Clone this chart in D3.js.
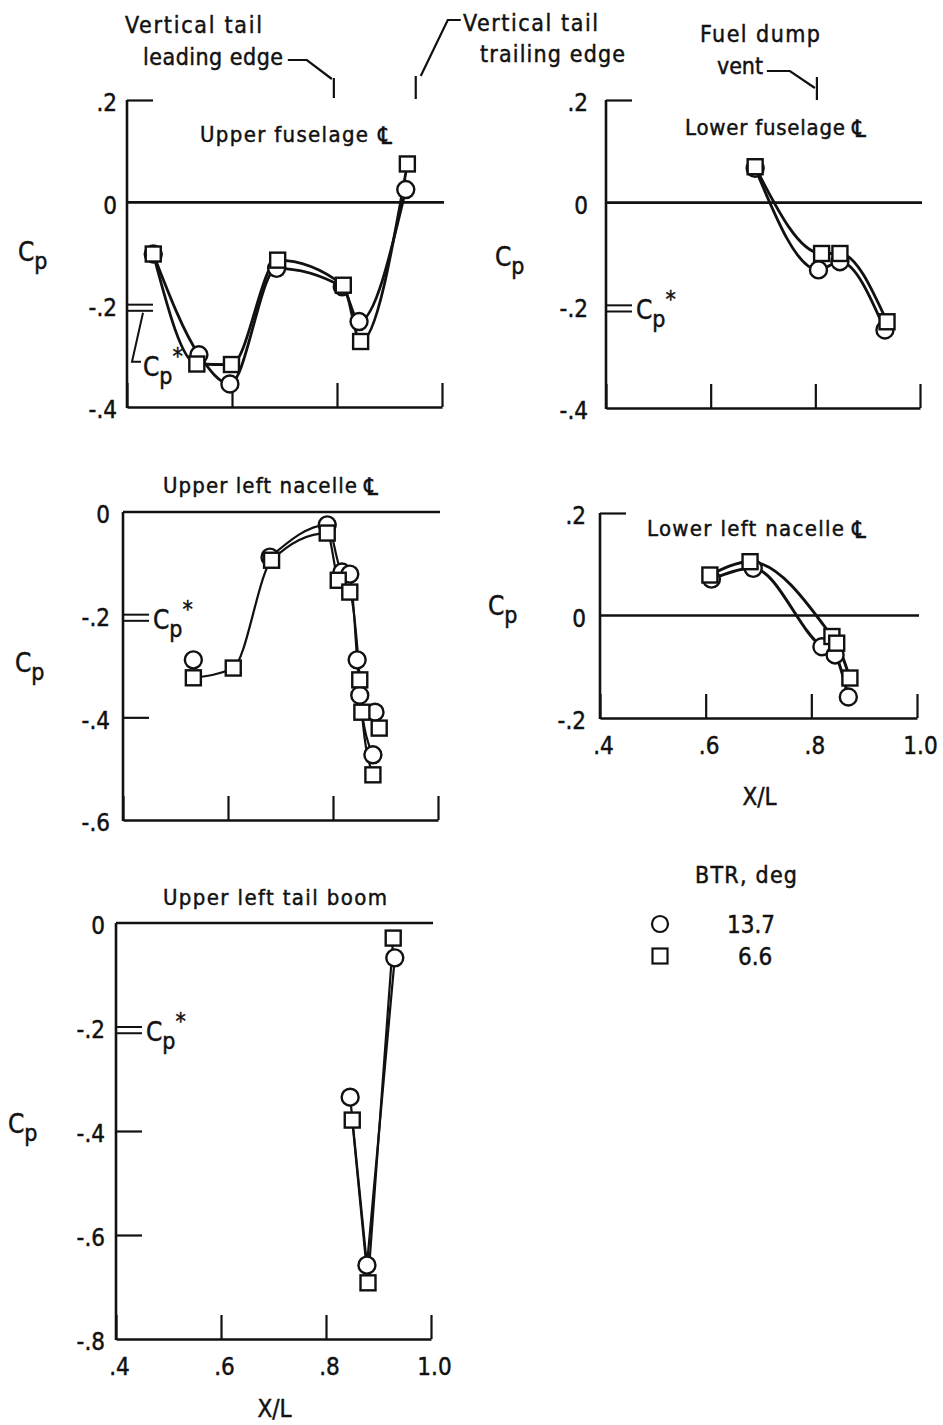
<!DOCTYPE html>
<html>
<head>
<meta charset="utf-8">
<script src="https://cdn.jsdelivr.net/npm/d3@7"></script>
<style>
  html, body { margin: 0; padding: 0; background: #fff; }
  svg text { font-family: "DejaVu Sans Condensed", "DejaVu Sans", sans-serif; fill: #111; stroke: #111; stroke-width: 0.45px; }
</style>
</head>
<body>
<script>
// ---------------- data ----------------
const legendTitle = "BTR, deg";
const seriesLabels = ["13.7", "6.6"];          // circle, square

const xTickValues = [0.4, 0.6, 0.8, 1.0];
const xTickText = [".4", ".6", ".8", "1.0"];
const xTitle = "X/L";
const centerlineGlyph = "\u2104";

// critical pressure coefficient band, Cp*
const cpStar = [-0.200, -0.212];

// station markers along X/L
const tailLeadingEdge = 0.794;
const tailTrailingEdge = 0.950;
const fuelDumpVent = 0.803;

// Upper fuselage centerline
const upperFuselageX_137 = [0.450, 0.537, 0.596, 0.685, 0.810, 0.842, 0.931];
const upperFuselageCp_137 = [-0.101, -0.298, -0.355, -0.129, -0.165, -0.233, 0.025];
const upperFuselageX_66 = [0.450, 0.533, 0.599, 0.687, 0.812, 0.845, 0.934];
const upperFuselageCp_66 = [-0.101, -0.316, -0.317, -0.113, -0.162, -0.272, 0.075];

// Lower fuselage centerline
const lowerFuselageX_137 = [0.685, 0.806, 0.847, 0.933];
const lowerFuselageCp_137 = [0.067, -0.131, -0.115, -0.248];
const lowerFuselageX_66 = [0.685, 0.812, 0.847, 0.937];
const lowerFuselageCp_66 = [0.070, -0.099, -0.099, -0.232];

// Upper left nacelle centerline
const upperNacelleX_137 = [0.534, 0.680, 0.789, 0.817, 0.832, 0.846, 0.851, 0.880, 0.876];
const upperNacelleCp_137 = [-0.288, -0.088, -0.025, -0.117, -0.121, -0.288, -0.357, -0.390, -0.473];
const upperNacelleFaired_137 = [1, 2, 3, 4, 5, 6, 8];
const upperNacelleX_66 = [0.534, 0.610, 0.683, 0.789, 0.810, 0.832, 0.851, 0.855, 0.888, 0.876];
const upperNacelleCp_66 = [-0.323, -0.304, -0.094, -0.041, -0.133, -0.156, -0.327, -0.390, -0.421, -0.512];
const upperNacelleFaired_66 = [0, 1, 2, 3, 4, 5, 6, 7, 9];

// Lower left nacelle centerline
const lowerNacelleX_137 = [0.611, 0.690, 0.820, 0.845, 0.870];
const lowerNacelleCp_137 = [0.071, 0.092, -0.061, -0.077, -0.159];
const lowerNacelleX_66 = [0.608, 0.684, 0.839, 0.848, 0.873];
const lowerNacelleCp_66 = [0.079, 0.105, -0.041, -0.054, -0.122];

// Upper left tail boom
const tailBoomX_137 = [0.846, 0.878, 0.931];
const tailBoomCp_137 = [-0.335, -0.658, -0.067];
const tailBoomX_66 = [0.850, 0.880, 0.928];
const tailBoomCp_66 = [-0.379, -0.692, -0.029];

const cpTicksA = [0.2, 0, -0.2, -0.4];
const cpTextA = [".2", "0", "-.2", "-.4"];
const cpTicksB = [0, -0.2, -0.4, -0.6];
const cpTextB = ["0", "-.2", "-.4", "-.6"];
const cpTicksC = [0.2, 0, -0.2];
const cpTextC = [".2", "0", "-.2"];
const cpTicksD = [0, -0.2, -0.4, -0.6, -0.8];
const cpTextD = ["0", "-.2", "-.4", "-.6", "-.8"];

// ---------------- drawing ----------------
const W = 943, H = 1425;
const INK = "#111";
const svg = d3.select("body").append("svg")
  .attr("width", W).attr("height", H)
  .attr("viewBox", `0 0 ${W} ${H}`);

const zip = (xs, ys) => xs.map((v, i) => [v, ys[i]]);

function fitText(g, str, x, y, width, size) {
  return g.append("text").attr("x", x).attr("y", y)
    .attr("font-size", size)
    .attr("textLength", width).attr("lengthAdjust", "spacing")
    .text(str);
}

// centerline symbol after a panel title
function centerline(g, x, y) {
  g.append("text").attr("x", x).attr("y", y + 2).attr("font-size", 24).text(centerlineGlyph);
}

function cpLabel(g, x, y, star) {
  const t = g.append("text").attr("x", x).attr("y", y).attr("font-size", 26).text("C");
  t.append("tspan").attr("dy", 8).attr("font-size", 23).text("p");
  if (star) t.append("tspan").attr("dy", -20).attr("font-size", 23).text("*");
  return t;
}

function drawPanel(p) {
  const g = svg.append("g");
  const x = d3.scaleLinear().domain([0.4, 1.0]).range([p.left, p.right]);
  const y = d3.scaleLinear().domain(p.yDomain).range([p.bottom, p.top]);

  // bottom axis with upward ticks
  const xAxis = d3.axisBottom(x)
    .tickValues(xTickValues)
    .tickSizeInner(-24).tickSizeOuter(0)
    .tickPadding(p.xLabels ? 19 : 0)
    .tickFormat((d, i) => p.xLabels ? xTickText[i] : "");
  const gx = g.append("g").attr("transform", `translate(0,${p.bottom})`).call(xAxis);
  gx.attr("font-family", null).attr("font-size", 24);
  gx.select(".domain").attr("stroke", INK).attr("stroke-width", 2.6);
  gx.selectAll(".tick line").attr("stroke", INK).attr("stroke-width", 2.2);
  gx.selectAll(".tick text").attr("fill", INK).attr("dx", 3);

  // left axis line
  g.append("line")
    .attr("x1", p.left).attr("x2", p.left)
    .attr("y1", p.top).attr("y2", p.bottom + 1)
    .attr("stroke", INK).attr("stroke-width", 2.6);

  // tick labels
  const yAxis = d3.axisLeft(y)
    .tickValues(p.yTicks)
    .tickFormat((d, i) => p.yText[i])
    .tickSize(0).tickPadding(p.labelPad);
  const gy = g.append("g").attr("transform", `translate(${p.left},3)`).call(yAxis);
  gy.attr("font-family", null).attr("font-size", 24);
  gy.select(".domain").remove();
  gy.selectAll(".tick text").attr("fill", INK);

  // inward ticks
  if (p.innerTicks.length) {
    const gi = g.append("g").attr("transform", `translate(${p.left},0)`)
      .call(d3.axisRight(y).tickValues(p.innerTicks).tickSize(26).tickFormat(""));
    gi.select(".domain").remove();
    gi.selectAll(".tick line").attr("stroke", INK).attr("stroke-width", 2.2);
  }

  // zero line
  g.append("line")
    .attr("x1", p.left).attr("x2", p.right + 2)
    .attr("y1", y(0)).attr("y2", y(0))
    .attr("stroke", INK).attr("stroke-width", 2.6);

  // Cp* band
  if (p.cpStar) {
    cpStar.forEach(v => {
      g.append("line")
        .attr("x1", p.left).attr("x2", p.left + 26)
        .attr("y1", y(v)).attr("y2", y(v))
        .attr("stroke", INK).attr("stroke-width", 2);
    });
    if (p.cpStarLeader) {
      const yb = y(cpStar[1]);
      g.append("path")
        .attr("d", `M${p.left + 16},${yb + 2} L${p.left + 5},${yb + 51} L${p.left + 14},${yb + 51}`)
        .attr("fill", "none").attr("stroke", INK).attr("stroke-width", 2);
      cpLabel(g, p.left + 16, yb + 65, true);
    } else {
      cpLabel(g, p.left + 30, y(d3.mean(cpStar)) + 11, true);
    }
  }

  // axis title
  cpLabel(g, p.cpX, p.cpY, false);

  // panel title
  fitText(g, p.title, p.titleX, p.titleY, p.titleW, 22);
  if (p.clX) centerline(g, p.clX, p.titleY);

  // x title
  if (p.xLabels) {
    g.append("text").attr("x", (p.left + p.right) / 2 + 1)
      .attr("y", p.xTitleY).attr("text-anchor", "middle")
      .attr("font-size", 24).text(xTitle);
  }

  // faired curves
  const line = d3.line().x(d => x(d[0])).y(d => y(d[1])).curve(p.curve);
  p.series.forEach(s => {
    const pts = s.faired ? s.faired.map(i => s.pts[i]) : s.pts;
    g.append("path").attr("d", line(pts))
      .attr("fill", "none").attr("stroke", INK)
      .attr("stroke-width", p.lineWidth).attr("stroke-linejoin", "round");
  });

  // symbols: circles (13.7 deg) then squares (6.6 deg)
  p.series.forEach(s => {
    if (s.shape === "circle") {
      g.selectAll(null).data(s.pts).join("circle")
        .attr("cx", d => x(d[0])).attr("cy", d => y(d[1])).attr("r", 8.5)
        .attr("fill", "#fff").attr("stroke", INK).attr("stroke-width", 2.4);
    }
  });
  p.series.forEach(s => {
    if (s.shape === "square") {
      g.selectAll(null).data(s.pts).join("rect")
        .attr("x", d => x(d[0]) - 7.5).attr("y", d => y(d[1]) - 7.5)
        .attr("width", 15).attr("height", 15)
        .attr("fill", "#fff").attr("stroke", INK).attr("stroke-width", 2.4);
    }
  });

  return { g, x, y };
}

const panels = [
  {
    title: "Upper fuselage", titleX: 200, titleY: 142, titleW: 168, clX: 378,
    left: 127, right: 442, top: 100, bottom: 407, yDomain: [-0.4, 0.2],
    yTicks: cpTicksA, yText: cpTextA, labelPad: 10, innerTicks: [0.2],
    cpStar: true, cpStarLeader: true, cpX: 18, cpY: 261, xLabels: false,
    curve: d3.curveMonotoneX, lineWidth: 2.8,
    series: [
      { shape: "circle", pts: zip(upperFuselageX_137, upperFuselageCp_137) },
      { shape: "square", pts: zip(upperFuselageX_66, upperFuselageCp_66) }
    ]
  },
  {
    title: "Lower fuselage", titleX: 685, titleY: 135, titleW: 160, clX: 852,
    left: 606, right: 920, top: 100, bottom: 408, yDomain: [-0.4, 0.2],
    yTicks: cpTicksA, yText: cpTextA, labelPad: 18, innerTicks: [0.2],
    cpStar: true, cpStarLeader: false, cpX: 495, cpY: 266, xLabels: false,
    curve: d3.curveMonotoneX, lineWidth: 2.8,
    series: [
      { shape: "circle", pts: zip(lowerFuselageX_137, lowerFuselageCp_137) },
      { shape: "square", pts: zip(lowerFuselageX_66, lowerFuselageCp_66) }
    ]
  },
  {
    title: "Upper left nacelle", titleX: 163, titleY: 493, titleW: 194, clX: 364,
    left: 123, right: 438, top: 512, bottom: 820, yDomain: [-0.6, 0],
    yTicks: cpTicksB, yText: cpTextB, labelPad: 13, innerTicks: [-0.4],
    cpStar: true, cpStarLeader: false, cpX: 15, cpY: 672, xLabels: false,
    curve: d3.curveMonotoneX, lineWidth: 2.2,
    series: [
      { shape: "circle", pts: zip(upperNacelleX_137, upperNacelleCp_137), faired: upperNacelleFaired_137 },
      { shape: "square", pts: zip(upperNacelleX_66, upperNacelleCp_66), faired: upperNacelleFaired_66 }
    ]
  },
  {
    title: "Lower left nacelle", titleX: 647, titleY: 536, titleW: 197, clX: 852,
    left: 600, right: 917, top: 513, bottom: 718, yDomain: [-0.2, 0.2],
    yTicks: cpTicksC, yText: cpTextC, labelPad: 14, innerTicks: [0.2],
    cpStar: false, cpX: 488, cpY: 615, xLabels: true, xTitleY: 805,
    curve: d3.curveMonotoneX, lineWidth: 3,
    series: [
      { shape: "circle", pts: zip(lowerNacelleX_137, lowerNacelleCp_137) },
      { shape: "square", pts: zip(lowerNacelleX_66, lowerNacelleCp_66) }
    ]
  },
  {
    title: "Upper left tail boom", titleX: 163, titleY: 905, titleW: 224, clX: null,
    left: 116, right: 431, top: 923, bottom: 1339, yDomain: [-0.8, 0],
    yTicks: cpTicksD, yText: cpTextD, labelPad: 11, innerTicks: [-0.4, -0.6],
    cpStar: true, cpStarLeader: false, cpX: 8, cpY: 1133, xLabels: true, xTitleY: 1417,
    curve: d3.curveLinear, lineWidth: 2.2,
    series: [
      { shape: "circle", pts: zip(tailBoomX_137, tailBoomCp_137) },
      { shape: "square", pts: zip(tailBoomX_66, tailBoomCp_66) }
    ]
  }
];

const drawn = panels.map(drawPanel);

// ---- station annotations above the fuselage panels ----
const ann = svg.append("g");
const xUpper = drawn[0].x, xLower = drawn[1].x;
const stroke = sel => sel.attr("fill", "none").attr("stroke", INK).attr("stroke-width", 2.2);

fitText(ann, "Vertical tail", 125, 33, 137, 23);
fitText(ann, "leading edge", 143, 65, 140, 23);
const xle = xUpper(tailLeadingEdge);
stroke(ann.append("path").attr("d", `M${xle - 46},60 H${xle - 27} L${xle - 2},79`));
stroke(ann.append("line").attr("x1", xle).attr("x2", xle).attr("y1", 78).attr("y2", 98));

fitText(ann, "Vertical tail", 463, 31, 135, 23);
fitText(ann, "trailing edge", 480, 62, 145, 23);
const xte = xUpper(tailTrailingEdge);
stroke(ann.append("path").attr("d", `M${xte + 5},76 L${xte + 32},20 H${xte + 45}`));
stroke(ann.append("line").attr("x1", xte).attr("x2", xte).attr("y1", 76).attr("y2", 99));

fitText(ann, "Fuel dump", 700, 42, 120, 23);
fitText(ann, "vent", 717, 74, 46, 23);
const xfv = xLower(fuelDumpVent);
stroke(ann.append("path").attr("d", `M${xfv - 50},71 H${xfv - 27} L${xfv - 2},88`));
stroke(ann.append("line").attr("x1", xfv).attr("x2", xfv).attr("y1", 77).attr("y2", 100));

// ---- legend ----
const lg = svg.append("g");
lg.append("text").attr("x", 695).attr("y", 883).attr("font-size", 23)
  .attr("textLength", 102).attr("lengthAdjust", "spacing").text(legendTitle);
const legendRows = [
  { shape: "circle", label: seriesLabels[0], cy: 924, tx: 727 },
  { shape: "square", label: seriesLabels[1], cy: 956, tx: 738 }
];
legendRows.forEach(r => {
  if (r.shape === "circle") {
    lg.append("circle").attr("cx", 660).attr("cy", r.cy).attr("r", 8)
      .attr("fill", "#fff").attr("stroke", INK).attr("stroke-width", 2.2);
  } else {
    lg.append("rect").attr("x", 652.5).attr("y", r.cy - 7.5).attr("width", 15).attr("height", 15)
      .attr("fill", "#fff").attr("stroke", INK).attr("stroke-width", 2.2);
  }
  lg.append("text").attr("x", r.tx).attr("y", r.cy + 9).attr("font-size", 24).text(r.label);
});
</script>
</body>
</html>
